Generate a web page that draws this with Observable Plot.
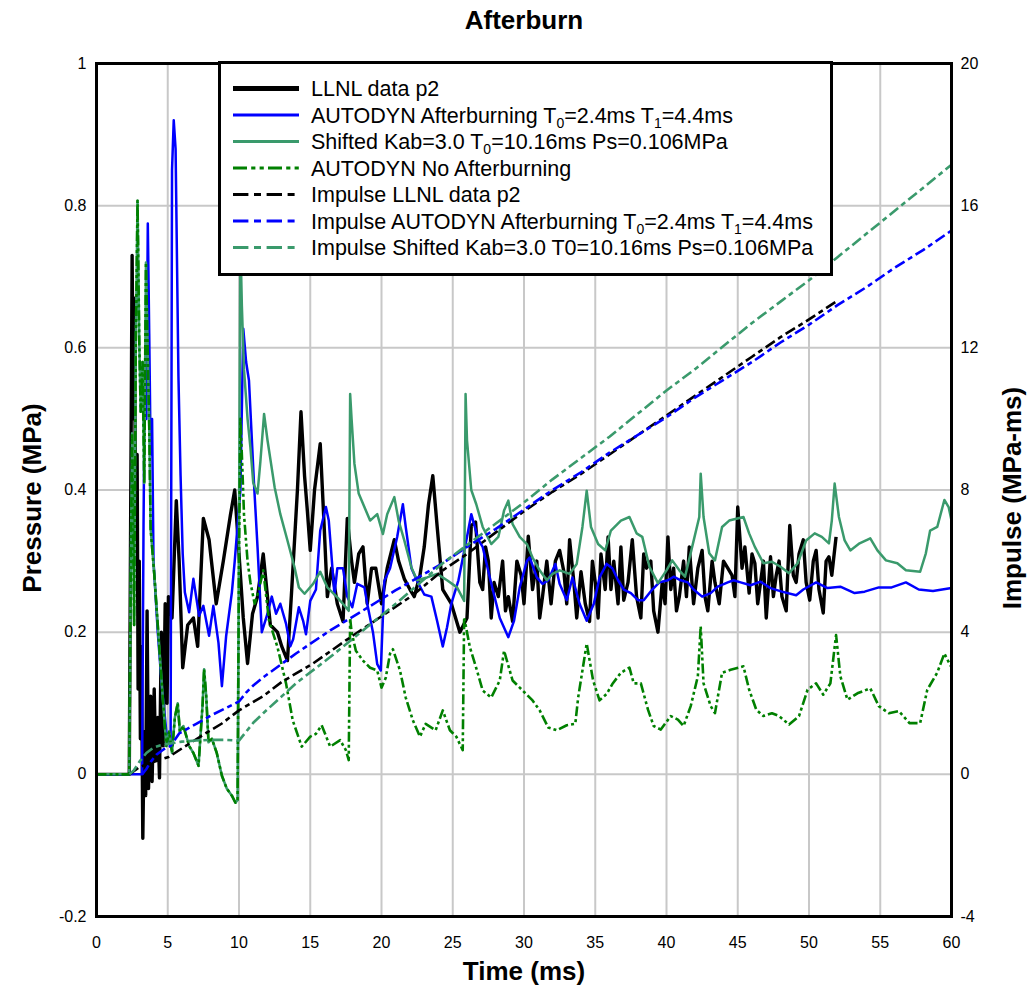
<!DOCTYPE html>
<html>
<head>
<meta charset="utf-8">
<script src="https://cdn.jsdelivr.net/npm/d3@7"></script>
<script src="https://cdn.jsdelivr.net/npm/@observablehq/plot@0.6"></script>
<style>
  body { margin: 0; background: #ffffff; }
  #chart svg { display: block; }
</style>
</head>
<body>
<div id="chart"></div>
<script>
// ---------- axis ticks ----------
const timeTicks = [0, 5, 10, 15, 20, 25, 30, 35, 40, 45, 50, 55, 60];
const pressureTicks = [-0.2, 0, 0.2, 0.4, 0.6, 0.8, 1];
const impulseTicks = [-4, 0, 4, 8, 12, 16, 20];
const impulseScale = 20; // 1 MPa on the left axis corresponds to 20 MPa-ms on the right axis

// ---------- labels ----------
const titleText = "Afterburn";
const xLabel = "Time (ms)";
const yLabelLeft = "Pressure (MPa)";
const yLabelRight = "Impulse (MPa-ms)";
const seriesNames = [
  "LLNL data p2",
  "AUTODYN Afterburning T{0}=2.4ms T{1}=4.4ms",
  "Shifted Kab=3.0 T{0}=10.16ms Ps=0.106MPa",
  "AUTODYN No Afterburning",
  "Impulse LLNL data p2",
  "Impulse AUTODYN Afterburning T{0}=2.4ms T{1}=4.4ms",
  "Impulse Shifted Kab=3.0 T0=10.16ms Ps=0.106MPa"
];

// ---------- pressure series [time ms, pressure MPa] ----------
const llnlP2 = [[0,0],[2.3,0],[2.4,0.37],[2.5,0.73],[2.58,0.5],[2.65,0.67],[2.75,0.35],[2.85,0.45],[2.92,0.12],[3.0,0.3],[3.08,0.05],[3.15,0.18],[3.25,-0.09],[3.35,0.06],[3.45,-0.03],[3.55,0.23],[3.65,-0.02],[3.8,0.11],[3.9,-0.01],[4.05,0.12],[4.15,0.02],[4.3,0.08],[4.42,-0.005],[4.55,0.2],[4.68,0.04],[4.82,0.24],[4.95,0.1],[5.05,0.25],[5.3,0.22],[5.6,0.385],[5.8,0.3],[6.05,0.15],[6.4,0.21],[6.8,0.22],[7.1,0.18],[7.5,0.36],[7.9,0.33],[8.4,0.24],[8.9,0.3],[9.4,0.365],[9.7,0.4],[10.0,0.31],[10.3,0.22],[10.6,0.156],[10.95,0.226],[11.3,0.25],[11.7,0.31],[12.0,0.25],[12.2,0.21],[12.7,0.2],[13.0,0.18],[13.4,0.16],[13.7,0.26],[14.1,0.4],[14.35,0.51],[14.6,0.42],[14.8,0.37],[15.0,0.315],[15.3,0.4],[15.7,0.465],[15.95,0.36],[16.2,0.25],[16.5,0.29],[16.9,0.24],[17.3,0.215],[17.6,0.36],[17.9,0.3],[18.1,0.27],[18.4,0.31],[18.7,0.32],[19.0,0.24],[19.3,0.29],[19.6,0.29],[20.0,0.24],[20.4,0.29],[20.9,0.33],[21.2,0.3],[21.6,0.275],[22.0,0.26],[22.3,0.25],[22.7,0.28],[23.0,0.32],[23.3,0.38],[23.6,0.42],[23.9,0.35],[24.3,0.26],[24.9,0.24],[25.5,0.2],[26.0,0.22],[26.3,0.35],[26.6,0.355],[26.9,0.27],[27.1,0.26],[27.3,0.32],[27.5,0.3],[27.7,0.22],[27.9,0.27],[28.2,0.25],[28.5,0.3],[28.7,0.23],[28.9,0.25],[29.2,0.215],[29.5,0.3],[29.8,0.28],[30.0,0.24],[30.3,0.335],[30.6,0.26],[30.9,0.3],[31.1,0.22],[31.3,0.25],[31.6,0.3],[31.9,0.24],[32.2,0.3],[32.5,0.315],[32.8,0.285],[33.0,0.24],[33.2,0.33],[33.5,0.27],[33.7,0.22],[34.0,0.285],[34.3,0.24],[34.6,0.215],[34.8,0.3],[35.0,0.27],[35.2,0.22],[35.4,0.31],[35.7,0.26],[35.9,0.334],[36.1,0.26],[36.3,0.3],[36.6,0.24],[36.8,0.32],[37.0,0.245],[37.3,0.27],[37.6,0.33],[37.9,0.25],[38.2,0.22],[38.4,0.31],[38.6,0.29],[38.9,0.3],[39.1,0.23],[39.4,0.2],[39.7,0.27],[39.9,0.24],[40.1,0.334],[40.3,0.26],[40.5,0.29],[40.7,0.23],[40.9,0.25],[41.2,0.3],[41.4,0.25],[41.6,0.32],[41.9,0.24],[42.2,0.29],[42.5,0.315],[42.7,0.25],[42.9,0.23],[43.2,0.3],[43.4,0.27],[43.7,0.24],[44.0,0.3],[44.3,0.29],[44.6,0.28],[44.8,0.25],[45.0,0.376],[45.3,0.29],[45.5,0.32],[45.8,0.255],[46.0,0.31],[46.2,0.297],[46.4,0.24],[46.6,0.27],[46.8,0.3],[47.0,0.22],[47.3,0.306],[47.5,0.25],[47.7,0.28],[47.9,0.3],[48.1,0.25],[48.4,0.23],[48.65,0.35],[48.9,0.28],[49.1,0.27],[49.3,0.31],[49.6,0.33],[49.8,0.27],[50.05,0.245],[50.3,0.3],[50.5,0.315],[50.7,0.26],[51.0,0.227],[51.2,0.3],[51.4,0.306],[51.6,0.28],[51.9,0.334]];

const autodynAfterburning = [[0,0],[3.2,0],[3.3,0.35],[3.4,0.58],[3.5,0.5],[3.6,0.775],[3.7,0.62],[3.8,0.45],[3.9,0.5],[4.0,0.3],[4.3,0.2],[4.6,0.12],[4.9,0.06],[5.2,0.04],[5.3,0.85],[5.42,0.92],[5.55,0.88],[5.65,0.72],[5.75,0.56],[5.9,0.42],[6.05,0.31],[6.2,0.256],[6.5,0.228],[6.8,0.275],[7.2,0.223],[7.5,0.237],[7.9,0.195],[8.2,0.237],[8.56,0.185],[8.8,0.124],[9.1,0.195],[9.5,0.256],[9.7,0.3],[10.1,0.4],[10.3,0.627],[10.5,0.58],[10.7,0.554],[11.05,0.41],[11.3,0.32],[11.6,0.2],[12.0,0.226],[12.3,0.25],[12.6,0.226],[12.9,0.24],[13.3,0.212],[13.6,0.18],[13.8,0.19],[14.2,0.235],[14.5,0.216],[14.7,0.197],[15.0,0.244],[15.4,0.26],[15.7,0.343],[16.1,0.376],[16.3,0.357],[16.7,0.253],[16.9,0.29],[17.3,0.29],[17.6,0.25],[17.95,0.235],[18.3,0.268],[18.8,0.263],[19.0,0.24],[19.4,0.2],[19.7,0.155],[19.95,0.146],[20.2,0.272],[20.6,0.29],[21.1,0.334],[21.5,0.38],[21.7,0.348],[22.1,0.29],[22.5,0.272],[23.0,0.253],[23.5,0.25],[23.9,0.216],[24.3,0.18],[24.6,0.207],[24.9,0.24],[25.4,0.273],[26.0,0.334],[26.3,0.366],[26.8,0.33],[27.1,0.32],[27.6,0.277],[28.3,0.22],[28.9,0.193],[29.3,0.216],[29.7,0.263],[30.2,0.3],[30.4,0.305],[30.9,0.277],[31.3,0.268],[31.7,0.273],[32.2,0.296],[32.5,0.268],[33.0,0.245],[33.4,0.277],[33.9,0.24],[34.4,0.216],[34.9,0.24],[35.3,0.277],[35.8,0.296],[36.2,0.29],[36.6,0.273],[37.0,0.26],[37.5,0.255],[38.0,0.245],[38.4,0.245],[39.0,0.26],[39.5,0.27],[40.1,0.273],[40.5,0.278],[41.0,0.273],[41.5,0.27],[41.9,0.26],[42.5,0.25],[43.1,0.255],[43.6,0.264],[44.3,0.27],[44.7,0.273],[45.2,0.27],[45.9,0.266],[46.6,0.271],[47.3,0.262],[48.1,0.257],[49.1,0.252],[49.6,0.26],[50.5,0.27],[51.3,0.262],[52.2,0.264],[53.2,0.255],[53.9,0.257],[54.9,0.263],[55.8,0.263],[56.8,0.27],[57.7,0.26],[58.7,0.258],[60,0.262]];

const autodynNoAfterburning = [[0,0],[2.3,0],[2.4,0.28],[2.5,0.48],[2.64,0.21],[2.76,0.61],[2.88,0.807],[3.0,0.61],[3.1,0.51],[3.23,0.58],[3.35,0.41],[3.47,0.72],[3.58,0.61],[3.7,0.49],[3.8,0.345],[4.06,0.28],[4.3,0.21],[4.65,0.108],[4.9,0.04],[5.1,0.06],[5.3,0.03],[5.5,0.08],[5.7,0.1],[5.85,0.06],[6.1,0.068],[6.5,0.04],[6.8,0.03],[7.16,0.012],[7.45,0.1],[7.55,0.148],[7.7,0.11],[7.86,0.045],[8.1,0.05],[8.44,0.03],[8.8,-0.002],[9.14,-0.02],[9.5,-0.03],[9.75,-0.04],[9.9,-0.036],[10.0,0.3],[10.1,0.5],[10.2,0.45],[10.35,0.366],[10.6,0.3],[10.8,0.27],[11.1,0.24],[11.4,0.26],[11.7,0.287],[12.1,0.217],[12.7,0.179],[13.3,0.128],[13.77,0.076],[14.4,0.039],[15.0,0.053],[15.4,0.057],[15.8,0.069],[16.4,0.039],[17.1,0.048],[17.5,0.034],[17.7,0.02],[17.8,0.22],[17.9,0.2],[18.2,0.174],[18.7,0.16],[19.2,0.15],[19.7,0.146],[20.0,0.122],[20.3,0.136],[20.6,0.17],[20.8,0.176],[21.3,0.146],[21.7,0.108],[22.2,0.076],[22.7,0.053],[23.1,0.071],[23.8,0.062],[24.3,0.09],[24.8,0.062],[25.25,0.053],[25.7,0.034],[25.8,0.221],[26.2,0.179],[26.7,0.146],[27.1,0.118],[27.7,0.108],[28.3,0.132],[28.6,0.174],[29.2,0.132],[29.9,0.118],[30.6,0.104],[31.1,0.09],[31.7,0.066],[32.3,0.062],[33.0,0.069],[33.6,0.071],[33.8,0.108],[34.4,0.184],[34.85,0.132],[35.3,0.104],[35.8,0.113],[36.2,0.127],[36.8,0.143],[37.4,0.15],[37.7,0.128],[38.2,0.128],[38.7,0.091],[39.1,0.068],[39.6,0.063],[40.3,0.082],[40.8,0.077],[41.2,0.068],[41.7,0.096],[42.2,0.138],[42.4,0.208],[42.6,0.128],[43.1,0.096],[43.4,0.086],[43.9,0.143],[44.5,0.147],[45.4,0.152],[45.8,0.119],[46.3,0.091],[46.8,0.082],[47.4,0.086],[47.9,0.082],[48.6,0.07],[49.3,0.082],[49.9,0.119],[50.5,0.128],[51.0,0.112],[51.5,0.128],[51.9,0.196],[52.2,0.138],[52.7,0.105],[53.4,0.114],[54.3,0.121],[54.9,0.096],[55.6,0.086],[56.3,0.089],[57.05,0.072],[57.8,0.072],[58.3,0.119],[59.0,0.143],[59.5,0.17],[59.95,0.152]];

// Shifted curve: follows the no-afterburning curve up to T0, then its own values
const shiftedT0 = 9.95;
const shiftedAfterT0 = [[10.0,0.35],[10.1,0.75],[10.2,0.66],[10.35,0.57],[10.6,0.5],[10.8,0.46],[11.0,0.41],[11.3,0.395],[11.5,0.44],[11.76,0.507],[12.0,0.47],[12.5,0.404],[12.9,0.366],[13.4,0.329],[13.9,0.291],[14.2,0.263],[14.6,0.254],[15.2,0.268],[15.7,0.285],[16.2,0.263],[16.9,0.249],[17.5,0.235],[17.7,0.23],[17.8,0.535],[17.9,0.5],[18.1,0.437],[18.4,0.395],[18.8,0.376],[19.2,0.357],[19.7,0.366],[20.1,0.338],[20.4,0.366],[20.9,0.39],[21.2,0.357],[21.6,0.329],[22.1,0.291],[22.5,0.273],[23.2,0.277],[23.9,0.282],[24.6,0.273],[25.3,0.263],[25.8,0.244],[25.9,0.535],[26.0,0.47],[26.3,0.4],[26.65,0.38],[27.1,0.348],[27.7,0.324],[28.2,0.334],[28.6,0.371],[28.9,0.385],[29.2,0.352],[29.7,0.334],[30.2,0.324],[30.6,0.305],[31.1,0.287],[31.6,0.273],[32.0,0.282],[32.5,0.287],[33.2,0.282],[33.7,0.296],[34.1,0.348],[34.4,0.399],[34.7,0.348],[35.2,0.324],[35.7,0.315],[36.1,0.343],[36.8,0.357],[37.4,0.362],[37.9,0.339],[38.3,0.334],[38.8,0.292],[39.4,0.269],[40.0,0.287],[40.4,0.301],[40.9,0.287],[41.3,0.278],[41.8,0.32],[42.3,0.362],[42.4,0.423],[42.6,0.362],[43.0,0.311],[43.4,0.301],[43.9,0.348],[44.4,0.357],[45.4,0.362],[45.8,0.339],[46.2,0.32],[46.8,0.297],[47.4,0.299],[48.0,0.292],[48.6,0.283],[49.2,0.297],[49.8,0.329],[50.4,0.339],[50.9,0.334],[51.4,0.325],[51.6,0.357],[51.8,0.409],[52.1,0.362],[52.5,0.329],[52.9,0.315],[53.55,0.325],[54.3,0.332],[54.8,0.315],[55.4,0.301],[56.2,0.297],[56.8,0.287],[57.8,0.285],[58.2,0.311],[58.5,0.343],[59.0,0.348],[59.5,0.386],[59.8,0.376],[60,0.357]];
const shiftedKab = autodynNoAfterburning.filter(d => d[0] < shiftedT0).concat(shiftedAfterT0);

// ---------- impulse series [time ms, impulse MPa-ms] ----------
const impulseLLNL = [[2.3,0],[3.0,0.2],[4.0,0.35],[5.07,0.49],[6.5,0.86],[7.6,1.14],[8.8,1.43],[10.0,1.8],[11.7,2.2],[13.0,2.6],[15.2,3.12],[17.5,3.77],[19.9,4.42],[22.2,5.04],[24.3,5.74],[26,6.2],[28,6.8],[30,7.4],[32,7.95],[34,8.45],[36,9.0],[38,9.55],[40,10.1],[42,10.65],[44,11.2],[46,11.75],[48,12.3],[50,12.8],[51.9,13.3]];
const impulseAfterburning = [[3.2,0],[3.5,0.15],[3.8,0.35],[4.2,0.55],[4.7,0.7],[5.2,0.8],[5.8,1.15],[7.0,1.42],[8.0,1.65],[9.0,1.85],[10.0,2.05],[10.5,2.3],[11.0,2.5],[11.7,2.73],[14.0,3.4],[16.4,4.05],[18.7,4.61],[21.0,5.18],[24.3,5.94],[26,6.4],[28,6.9],[30,7.45],[32,8.0],[34,8.5],[36,9.05],[38,9.55],[40,10.05],[42,10.6],[44,11.1],[46,11.6],[48,12.15],[50,12.65],[52,13.2],[54,13.7],[56,14.25],[58,14.75],[60,15.3]];
const impulseShifted = [[2.3,0],[2.6,0.1],[3.0,0.35],[3.5,0.6],[4.0,0.75],[4.5,0.82],[5.07,0.86],[6.0,0.92],[7.0,0.95],[8.0,0.97],[9.0,0.97],[10.0,0.95],[10.5,1.2],[11.0,1.45],[11.7,1.72],[14.0,2.56],[16.4,3.3],[18.7,4.05],[21.0,4.8],[24.3,5.94],[26,6.45],[28,7.05],[30,7.65],[32,8.3],[34,8.9],[36,9.5],[38,10.15],[40,10.8],[42,11.4],[44,12.05],[46,12.7],[48,13.3],[50,13.9],[52,14.55],[54,15.2],[56,15.85],[58,16.5],[60,17.15]];

// ---------- styling ----------
const FONT = "'Liberation Sans', Arial, Helvetica, sans-serif";
const seaGreen = "#3a9a6c";
const seriesStyles = [
  {data: llnlP2, stroke: "#000000", width: 3.4, dash: null, axis: "p", legendWidth: 5},
  {data: autodynAfterburning, stroke: "#0000ff", width: 2.5, dash: null, axis: "p", legendWidth: 3},
  {data: shiftedKab, stroke: seaGreen, width: 2.5, dash: null, axis: "p", legendWidth: 3},
  {data: autodynNoAfterburning, stroke: "#008000", width: 2.6, dash: "10,3,3,3,3,3", axis: "p", legendWidth: 3},
  {data: impulseLLNL, stroke: "#000000", width: 2.6, dash: "11,4,5,4", axis: "i", legendWidth: 3},
  {data: impulseAfterburning, stroke: "#0000ff", width: 2.6, dash: "11,4,5,4", axis: "i", legendWidth: 3},
  {data: impulseShifted, stroke: seaGreen, width: 2.6, dash: "11,4,5,4", axis: "i", legendWidth: 3}
];

const lineMarks = seriesStyles.map(s => Plot.line(s.data, {
  x: d => d[0],
  y: s.axis === "p" ? (d => d[1]) : (d => d[1] / impulseScale),
  stroke: s.stroke,
  strokeWidth: s.width,
  strokeDasharray: s.dash,
  strokeLinejoin: "round",
  strokeLinecap: "butt"
}));

const fmtP = d => String(+d.toFixed(1));
const fmtI = d => String(Math.round(d * impulseScale));

const chart = Plot.plot({
  width: 1027,
  height: 987,
  marginTop: 63,
  marginBottom: 71,
  marginLeft: 96,
  marginRight: 76,
  x: {domain: [0, 60]},
  y: {domain: [-0.2, 1]},
  style: {fontFamily: FONT, fontSize: "16px", background: "#ffffff", color: "#000000", overflow: "visible"},
  marks: [
    Plot.gridX(timeTicks, {stroke: "#c8c8c8", strokeOpacity: 1, strokeWidth: 2}),
    Plot.gridY(pressureTicks, {stroke: "#c8c8c8", strokeOpacity: 1, strokeWidth: 2}),
    ...lineMarks,
    Plot.frame({stroke: "#000000", strokeWidth: 3}),
    Plot.axisX(timeTicks, {tickSize: 0, tickPadding: 20, label: null, tickFormat: d => String(d)}),
    Plot.axisY(pressureTicks, {anchor: "left", tickSize: 0, tickPadding: 10, label: null, tickFormat: fmtP}),
    Plot.axisY(impulseTicks.map(v => v / impulseScale), {anchor: "right", tickSize: 0, tickPadding: 9, label: null, tickFormat: fmtI}),
    Plot.text([titleText], {text: d => d, frameAnchor: "top", lineAnchor: "middle", dy: -43, fontSize: 26, fontWeight: "bold"}),
    Plot.text([xLabel], {text: d => d, frameAnchor: "bottom", lineAnchor: "middle", dy: 55, fontSize: 26, fontWeight: "bold"}),
    Plot.text([yLabelLeft], {text: d => d, frameAnchor: "left", textAnchor: "middle", lineAnchor: "middle", dx: -64, dy: 8, rotate: -90, fontSize: 26, fontWeight: "bold"}),
    Plot.text([yLabelRight], {text: d => d, frameAnchor: "right", textAnchor: "middle", lineAnchor: "middle", dx: 61, dy: 8, rotate: -90, fontSize: 26, fontWeight: "bold"})
  ]
});

document.getElementById("chart").appendChild(chart);

// ---------- legend (drawn over the plot, like the original) ----------
const svg = d3.select(chart);
const lg = svg.append("g")
  .attr("font-family", FONT).attr("font-size", 21.5).attr("fill", "#000")
  .attr("text-anchor", "start");
lg.append("rect")
  .attr("x", 219.5).attr("y", 62.5).attr("width", 612).attr("height", 212)
  .attr("fill", "#ffffff").attr("stroke", "#000000").attr("stroke-width", 3);
seriesStyles.forEach((s, i) => {
  const yy = 88.5 + i * 26.5;
  lg.append("line")
    .attr("x1", 233).attr("x2", 299).attr("y1", yy).attr("y2", yy)
    .attr("stroke", s.stroke).attr("stroke-width", s.legendWidth)
    .attr("stroke-dasharray", s.dash ? s.dash.split(",").map(v => +v * 1.4).join(",") : null);
  const t = lg.append("text").attr("x", 311).attr("y", yy).attr("dy", "0.36em").attr("text-anchor", "start");
  const parts = seriesNames[i].split(/(\{[^}]*\})/).filter(p => p.length > 0);
  let shift = 0;
  parts.forEach(p => {
    if (p[0] === "{") {
      t.append("tspan").attr("font-size", 14).attr("dy", 5 - shift).text(p.slice(1, -1));
      shift = 5;
    } else {
      const ts = t.append("tspan").text(p);
      if (shift) { ts.attr("dy", -shift); shift = 0; }
    }
  });
});
</script>
</body>
</html>
